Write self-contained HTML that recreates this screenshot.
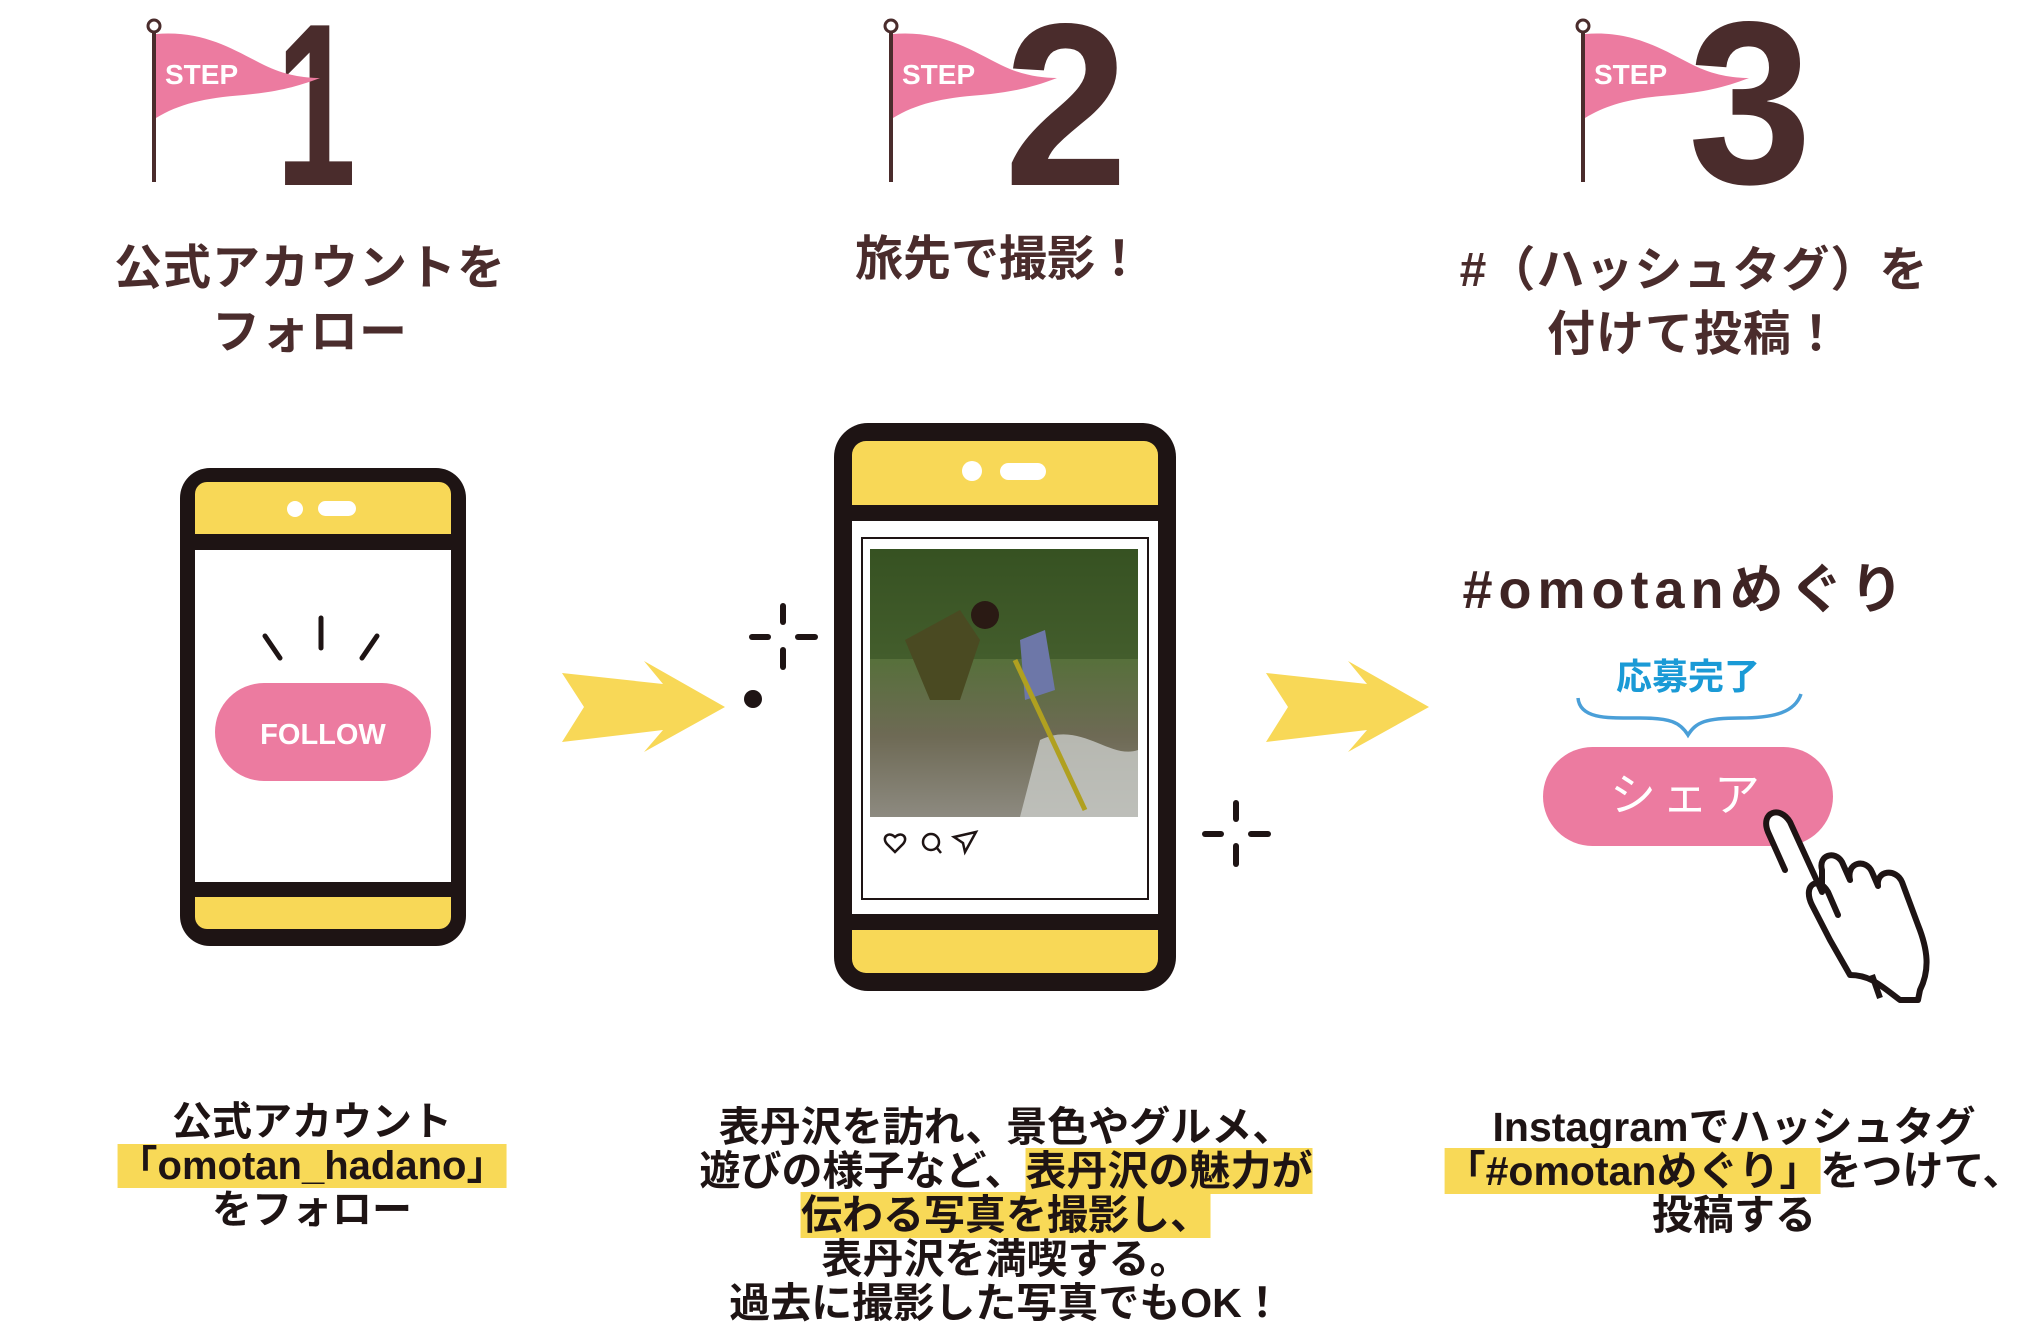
<!DOCTYPE html>
<html><head><meta charset="utf-8"><style>
body{margin:0;width:2030px;height:1328px;background:#fff;position:relative;overflow:hidden;font-family:"Liberation Sans","Noto Sans CJK JP",sans-serif;}
.t{position:absolute;color:#4a2c2c;font-weight:bold;text-align:center;white-space:nowrap;transform:translateX(-50%);}
.b{position:absolute;color:#1e1414;font-weight:bold;text-align:center;white-space:nowrap;transform:translateX(-50%);font-size:40px;line-height:44px;}
.h{background:#f8d957;}
svg{position:absolute;left:0;top:0}
</style></head><body>
<svg width="2030" height="1328" viewBox="0 0 2030 1328">
<defs>
<linearGradient id="ph" x1="0" y1="0" x2="0" y2="1">
<stop offset="0" stop-color="#3d5a26"/><stop offset="0.4" stop-color="#56703a"/><stop offset="0.7" stop-color="#6e6a55"/><stop offset="1" stop-color="#8d8a80"/></linearGradient>
<g id="flag"><line x1="0" y1="32" x2="0" y2="182" stroke="#4a2c2c" stroke-width="4"/><circle cx="0" cy="26" r="6" fill="#fff" stroke="#4a2c2c" stroke-width="3"/>
<path d="M2 34 C50 30 80 50 110 65 C130 75 150 78 166 78 C140 88 120 92 90 95 C50 98 25 104 2 118 Z" fill="#ec7ba0"/>
<text x="11" y="84" font-family="Liberation Sans" font-weight="bold" font-size="28" fill="#fff">STEP</text></g>
</defs>
<text x="276" y="185" font-family="Liberation Sans" font-weight="bold" font-size="232" fill="#4a2c2c" textLength="80" lengthAdjust="spacingAndGlyphs">1</text>
<text x="1004" y="185" font-family="Liberation Sans" font-weight="bold" font-size="232" fill="#4a2c2c" textLength="124" lengthAdjust="spacingAndGlyphs">2</text>
<text x="1688" y="183" font-family="Liberation Sans" font-weight="bold" font-size="232" fill="#4a2c2c" textLength="124" lengthAdjust="spacingAndGlyphs">3</text>
<use href="#flag" x="154" y="0"/>
<use href="#flag" x="891" y="0"/>
<use href="#flag" x="1583" y="0"/>

<!-- phone 1 -->
<rect x="180" y="468" width="286" height="478" rx="30" fill="#1e1414"/>
<path d="M195 494 a12 12 0 0 1 12-12 h232 a12 12 0 0 1 12 12 v40 h-256z" fill="#f8d857"/>
<rect x="195" y="550" width="256" height="332" fill="#fff"/>
<path d="M195 897 h256 v20 a12 12 0 0 1-12 12 h-232 a12 12 0 0 1-12-12z" fill="#f8d857"/>
<ellipse cx="295" cy="509" rx="8" ry="8" fill="#fff"/><rect x="318" y="501" width="38" height="15" rx="7.5" fill="#fff"/>
<rect x="215" y="683" width="216" height="98" rx="49" fill="#ec7ba0"/>
<text x="323" y="744" text-anchor="middle" font-family="Liberation Sans" font-size="29" fill="#fff" font-weight="bold">FOLLOW</text>
<g stroke="#1e1414" stroke-width="5" stroke-linecap="round"><line x1="265" y1="636" x2="280" y2="658"/><line x1="321" y1="618" x2="321" y2="648"/><line x1="377" y1="636" x2="362" y2="658"/></g>

<!-- arrows -->
<path d="M562 673 L663 684 L644 661 L725 707 L644 752 L663 730 L562 742 L584 707 Z" fill="#f8d857"/>
<path d="M1266 673 L1367 684 L1348 661 L1429 707 L1348 752 L1367 730 L1266 742 L1288 707 Z" fill="#f8d857"/>

<!-- sparkles -->
<g stroke="#1e1414" stroke-width="6" stroke-linecap="round">
<line x1="783" y1="606" x2="783" y2="622"/><line x1="783" y1="650" x2="783" y2="667"/><line x1="752" y1="637" x2="768" y2="637"/><line x1="798" y1="637" x2="815" y2="637"/>
<line x1="1236" y1="803" x2="1236" y2="819"/><line x1="1236" y1="846" x2="1236" y2="864"/><line x1="1205" y1="834" x2="1221" y2="834"/><line x1="1251" y1="834" x2="1268" y2="834"/>
</g>
<circle cx="753" cy="699" r="9" fill="#1e1414"/>

<!-- phone 2 -->
<rect x="834" y="423" width="342" height="568" rx="34" fill="#1e1414"/>
<path d="M852 455 a14 14 0 0 1 14-14 h278 a14 14 0 0 1 14 14 v50 h-306z" fill="#f8d857"/>
<rect x="852" y="521" width="306" height="393" fill="#fff"/>
<path d="M852 930 h306 v29 a14 14 0 0 1-14 14 h-278 a14 14 0 0 1-14-14z" fill="#f8d857"/>
<ellipse cx="972" cy="471" rx="10" ry="10" fill="#fff"/><rect x="1000" y="463" width="46" height="17" rx="8.5" fill="#fff"/>
<rect x="862" y="538" width="286" height="361" fill="#fff" stroke="#1e1414" stroke-width="2"/>
<rect x="870" y="549" width="268" height="268" fill="url(#ph)"/>
<rect x="870" y="549" width="268" height="110" fill="#2f4a1d" opacity="0.5"/>
<path d="M1040 740 C1080 720 1110 760 1138 750 V817 H1020 Z" fill="#c9ccc8" opacity="0.8"/>
<path d="M905 640 L960 610 L980 640 L960 700 L930 700 Z" fill="#4a4a22"/>
<circle cx="985" cy="615" r="14" fill="#2a1a14"/>
<path d="M1020 640 L1045 630 L1055 690 L1025 700 Z" fill="#6d77a8"/>
<line x1="1015" y1="660" x2="1085" y2="810" stroke="#b0a020" stroke-width="5"/>
<g fill="none" stroke="#1e1414" stroke-width="2.5">
<path d="M895 837 c-6-6-14 0-8 7 l8 8 8-8 c6-7-2-13-8-7z"/>
<circle cx="931" cy="842" r="8"/><path d="M937 848 l4 5"/>
<path d="M954 837 l22-5 -11 20 -2-9z"/>
</g>

<!-- step 3 -->
<path d="M1578 698 C1580 720 1610 718 1640 718 C1670 718 1680 722 1688 735 C1696 722 1706 718 1740 718 C1775 718 1795 712 1801 694" fill="none" stroke="#4a9fd8" stroke-width="3.5"/>
<rect x="1543" y="747" width="290" height="99" rx="49.5" fill="#ec7ba0"/>
<g fill="#fff" stroke="#1e1414" stroke-width="6" stroke-linejoin="round" stroke-linecap="round">
<path d="M1785 870 L1768 832 C1760 812 1780 805 1790 822 L1822 892 L1822 870 C1818 855 1835 850 1842 862 L1850 880 C1846 862 1866 858 1872 872 L1878 886 C1876 870 1896 868 1902 882 L1918 925 C1928 950 1930 970 1920 990 L1918 1000 L1900 1000 C1880 985 1870 975 1850 975 L1830 940 L1812 905 C1802 885 1818 875 1828 892 L1838 915"/>
</g>
<line x1="1872" y1="975" x2="1880" y2="998" stroke="#1e1414" stroke-width="6"/>
</svg>

<div class="t" style="left:310px;top:237px;font-size:48px;line-height:64px;letter-spacing:1px;">公式アカウントを<br>フォロー</div>
<div class="t" style="left:999px;top:228px;font-size:48px;line-height:64px;">旅先で撮影！</div>
<div class="t" style="left:1694px;top:239px;font-size:48px;line-height:64px;letter-spacing:1px;">#（ハッシュタグ）を<br>付けて投稿！</div>
<div class="t" style="left:1686px;top:558px;font-size:54px;line-height:64px;letter-spacing:6px;color:#3e2424;">#omotanめぐり</div>
<div class="t" style="left:1688px;top:654px;font-size:36px;line-height:46px;color:#1a9ad6;">応募完了</div>
<div class="t" style="left:1688px;top:765px;font-size:46px;line-height:60px;color:#fff;font-weight:normal;letter-spacing:6px;">シェア</div>

<div class="b" style="left:312px;top:1100px;">公式アカウント<br><span class="h">「omotan_hadano」</span><br>をフォロー</div>
<div class="b" style="left:1006px;top:1105px;font-size:41px;">表丹沢を訪れ、景色やグルメ、<br>遊びの様子など、<span class="h">表丹沢の魅力が</span><br><span class="h">伝わる写真を撮影し、</span><br>表丹沢を満喫する。<br>過去に撮影した写真でもOK！</div>
<div class="b" style="left:1734px;top:1105px;font-size:41px;">Instagramでハッシュタグ<br><span class="h">「#omotanめぐり」</span>をつけて、<br>投稿する</div>
</body></html>
